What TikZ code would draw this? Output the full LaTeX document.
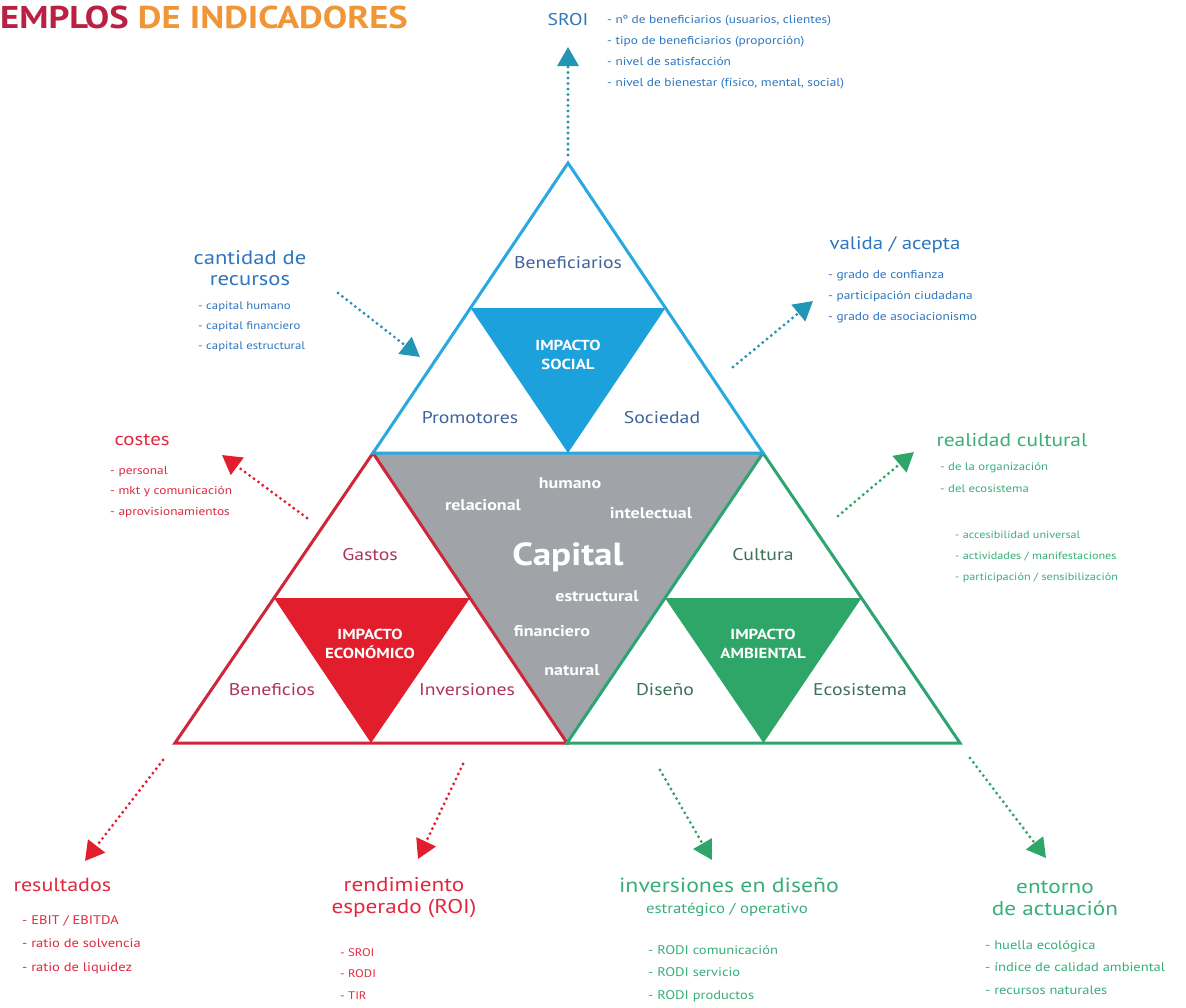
\documentclass[tikz,border=0pt]{standalone}
\usepackage{fontspec}
\setmainfont{PT Sans}[FakeStretch=1.16]
\usetikzlibrary{positioning,
				arrows.meta,
				calc}

\definecolor{socline}{RGB}{41,169,224}
\definecolor{socfill}{RGB}{29,161,220}
\definecolor{soctext}{RGB}{62,100,155}
\definecolor{soclist}{RGB}{45,118,192}
\definecolor{socarrow}{RGB}{34,150,178}
\definecolor{ecoline}{RGB}{208,38,58}
\definecolor{ecofill}{RGB}{226,30,45}
\definecolor{ecotext}{RGB}{172,52,92}
\definecolor{ecolist}{RGB}{224,40,62}
\definecolor{ambline}{RGB}{44,165,112}
\definecolor{ambfill}{RGB}{46,166,104}
\definecolor{ambtext}{RGB}{62,112,88}
\definecolor{amblist}{RGB}{56,174,122}
\definecolor{capgrey}{RGB}{160,164,168}
\definecolor{titlered}{RGB}{186,32,68}
\definecolor{titleorange}{RGB}{240,150,55}

\begin{document}
\begin{tikzpicture}[x=1pt, y=-1pt,
		triline/.style={line width=3pt, line join=miter},
		sidelbl/.style={font=\fontsize{17}{20}\selectfont},
		impact/.style={text=white, align=center, font=\bfseries\fontsize{14.5}{19}\selectfont},
		capword/.style={text=white, font=\bfseries\fontsize{15.5}{18}\selectfont},
		topic/.style={align=center, font=\fontsize{18}{21}\selectfont},
		items/.style={align=left, anchor=north west, inner sep=0pt, font=\fontsize{11.5}{21}\selectfont},
		dotarrow/.style={line width=3.2pt, line cap=round, dash pattern=on 0pt off 5.5pt,
			-{Triangle[length=19pt,width=21pt]}}]
	\fill[white] (0,0) rectangle (1186,1007);
	\useasboundingbox (0,0) rectangle (1186,1007);

	% corners of the three triangles
	\coordinate (socA) at (568,163);
	\coordinate (socL) at (373,453);
	\coordinate (socR) at (763,453);
	\coordinate (ecoL) at (175,743);
	\coordinate (base) at (567,743);
	\coordinate (ambR) at (960,743);

	\fill[capgrey] (socL) -- (socR) -- (base) -- cycle;
	\foreach \a/\l/\r/\fc/\lc in {socL/ecoL/base/ecofill/ecoline, socR/base/ambR/ambfill/ambline, socA/socL/socR/socfill/socline}{
		\fill[\fc] ($(\a)!.5!(\l)$) -- ($(\a)!.5!(\r)$) -- ($(\l)!.5!(\r)$) -- cycle;
		\draw[triline, \lc] (\a) -- (\l) -- (\r) -- cycle;
	}

	% labels inside
	\node[sidelbl, soctext] (benef) at (568,263) {Beneficiarios};
	\node[sidelbl, soctext] (promo) at (470,418) {Promotores};
	\node[sidelbl, soctext] (socie) at (662,418) {Sociedad};
	\node[impact] (impsoc) at (568,355) {IMPACTO\\SOCIAL};
	\node[sidelbl, ecotext] (gastos) at (370,555) {Gastos};
	\node[sidelbl, ecotext] (benefic) at (272,690) {Beneficios};
	\node[sidelbl, ecotext] (invers) at (467,690) {Inversiones};
	\node[impact] (impeco) at (370,644) {IMPACTO\\ECONÓMICO};
	\node[sidelbl, ambtext] (cultura) at (763,555) {Cultura};
	\node[sidelbl, ambtext] (diseno) at (665,690) {Diseño};
	\node[sidelbl, ambtext] (ecosis) at (860,690) {Ecosistema};
	\node[impact] (impamb) at (763,644) {IMPACTO\\AMBIENTAL};

	\node[capword] (humano) at (570,483) {humano};
	\node[capword] (relac) at (483,505) {relacional};
	\node[capword] (intel) at (651,513) {intelectual};
	\node[text=white, font=\bfseries\fontsize{32}{32}\selectfont] (capital) at (568,557) {Capital};
	\node[capword] (estruct) at (597,596) {estructural};
	\node[capword] (financ) at (552,631) {financiero};
	\node[capword] (natural) at (572,670) {natural};

	% title
	\node[anchor=base west, inner sep=0pt, font=\bfseries\fontsize{31.5}{32}\selectfont] (title) at (0,28)
		{\textcolor{titlered}{EMPLOS} \textcolor{titleorange}{DE INDICADORES}};

	% social side
	\node[soclist, font=\fontsize{17}{20}\selectfont] (sroi) at (568,20) {SROI};
	\node[items, soclist] (sroilist) at (607,15) {- nº de beneficiarios (usuarios, clientes)\\- tipo de beneficiarios (proporción)\\- nivel de satisfacción\\- nivel de bienestar (físico, mental, social)};
	\node[topic, soclist, font=\fontsize{19.5}{21}\selectfont] (recursos) at (250,268) {cantidad de\\recursos};
	\node[items, soclist, font=\fontsize{11}{20}\selectfont] (recurlist) at (198,302) {- capital humano\\- capital financiero\\- capital estructural};
	\node[topic, soclist, anchor=west] (valida) at (826,245) {valida / acepta};
	\node[items, soclist] (validalist) at (828,270) {- grado de confianza\\- participación ciudadana\\- grado de asociacionismo};

	% economic side
	\node[topic, ecolist, anchor=west] (costes) at (111,440) {costes};
	\node[items, ecolist, font=\fontsize{11.5}{20.5}\selectfont] (costlist) at (110,466) {- personal\\- mkt y comunicación\\- aprovisionamientos};
	\node[topic, ecolist, anchor=west, font=\fontsize{19}{21}\selectfont] (result) at (10,885) {resultados};
	\node[items, ecolist, font=\fontsize{12.5}{23.5}\selectfont] (resullist) at (22,915) {- EBIT / EBITDA\\- ratio de solvencia\\- ratio de liquidez};
	\node[topic, ecolist, font=\fontsize{20}{22}\selectfont] (roi) at (404,898) {rendimiento\\esperado (ROI)};
	\node[items, ecolist, font=\fontsize{11}{21.5}\selectfont] (roilist) at (340,948) {- SROI\\- RODI\\- TIR};

	% environmental side
	\node[topic, amblist, anchor=west, font=\fontsize{18.5}{21}\selectfont] (realidad) at (933,440) {realidad cultural};
	\node[items, amblist, font=\fontsize{11}{22}\selectfont] (realist) at (940,462) {- de la organización\\- del ecosistema};
	\node[items, amblist, font=\fontsize{10.5}{21}\selectfont] (accelist) at (955,531) {- accesibilidad universal\\- actividades / manifestaciones\\- participación / sensibilización};
	\node[topic, amblist, font=\fontsize{20.5}{22}\selectfont] (invdis) at (729,885) {inversiones en diseño};
	\node[amblist, font=\fontsize{14.5}{17}\selectfont] (estrat) at (727,910) {estratégico / operativo};
	\node[items, amblist, font=\fontsize{12.5}{22.5}\selectfont] (rodilist) at (648,945) {- RODI comunicación\\- RODI servicio\\- RODI productos};
	\node[topic, amblist, font=\fontsize{20}{22}\selectfont] (entorno) at (1055,898) {entorno\\de actuación};
	\node[items, amblist, font=\fontsize{12.5}{22.5}\selectfont] (entlist) at (985,940) {- huella ecológica\\- índice de calidad ambiental\\- recursos naturales};

	% dotted arrows
	\foreach \nm/\tx/\ty/\hx/\hy/\clr in {sroi/568/155/568/47/socarrow, recur/338/293/420/357/socarrow,
		valida/733/367/813/301/socarrow, costes/307/518/222/455/ecofill, cult/838/516/914/452/ambfill,
		resul/163/760/85/861/ecofill, roi/463/764/418/859/ecofill, invd/660/770/712/860/ambfill,
		ento/970/758/1046/858/ambfill}{
		\coordinate (\nm-tail) at (\tx,\ty);
		\coordinate (\nm-tip) at (\hx,\hy);
		\draw[dotarrow, \clr] (\nm-tail) -- (\nm-tip);
	}
\end{tikzpicture}
\end{document}
